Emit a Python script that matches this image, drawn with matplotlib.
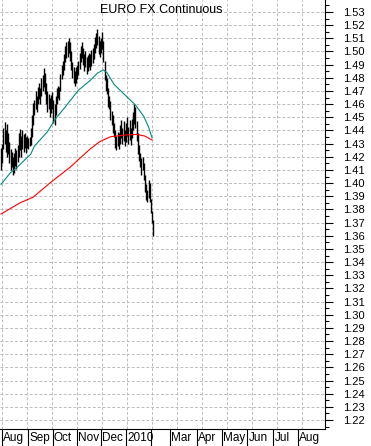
import matplotlib

matplotlib.use("Agg")
import matplotlib.pyplot as plt
from matplotlib.transforms import blended_transform_factory
from matplotlib.ticker import MultipleLocator, FormatStrFormatter
import numpy as np

plt.rcParams["font.family"] = ["Liberation Sans", "DejaVu Sans"]

# daily bars, trading-day index 0 = 31 Jul 2009
lows = [
    1.4100, 1.4150, 1.4260, 1.4300, 1.4240, 1.4200, 1.4220, 1.4150, 1.4100, 1.4120,
    1.4060, 1.4080, 1.4130, 1.4110, 1.4160, 1.4200, 1.4250, 1.4200, 1.4260, 1.4240,
    1.4270, 1.4230, 1.4270, 1.4260, 1.4280, 1.4290, 1.4350, 1.4440, 1.4520, 1.4560,
    1.4540, 1.4600, 1.4640, 1.4600, 1.4660, 1.4700, 1.4730, 1.4680, 1.4600, 1.4540,
    1.4560, 1.4500, 1.4530, 1.4560, 1.4460, 1.4440, 1.4520, 1.4600, 1.4650, 1.4630,
    1.4700, 1.4790, 1.4820, 1.4860, 1.4920, 1.4950, 1.4960, 1.4990, 1.4930, 1.4860,
    1.4800, 1.4760, 1.4740, 1.4760, 1.4790, 1.4820, 1.4870, 1.4920, 1.4950, 1.4900,
    1.4850, 1.4880, 1.4830, 1.4850, 1.4880, 1.4860, 1.4890, 1.4910, 1.4940, 1.4990,
    1.5030, 1.5050, 1.4980, 1.4960, 1.4990, 1.5020, 1.4920, 1.4780, 1.4700, 1.4680,
    1.4580, 1.4560, 1.4480, 1.4440, 1.4380, 1.4350, 1.4270, 1.4250, 1.4280, 1.4260,
    1.4300, 1.4340, 1.4300, 1.4320, 1.4280, 1.4310, 1.4360, 1.4300, 1.4330, 1.4290,
    1.4340, 1.4400, 1.4450, 1.4420, 1.4320, 1.4220, 1.4170, 1.4120, 1.4060, 1.4100,
    1.4020, 1.3930, 1.3870, 1.3860, 1.3890, 1.3860, 1.3770, 1.3700, 1.3600,
]
highs = [
    1.4270, 1.4300, 1.4420, 1.4465, 1.4400, 1.4450, 1.4380, 1.4310, 1.4260, 1.4240,
    1.4200, 1.4230, 1.4270, 1.4250, 1.4290, 1.4380, 1.4410, 1.4360, 1.4400, 1.4370,
    1.4380, 1.4350, 1.4360, 1.4340, 1.4350, 1.4420, 1.4520, 1.4610, 1.4630, 1.4700,
    1.4660, 1.4730, 1.4760, 1.4720, 1.4800, 1.4820, 1.4875, 1.4840, 1.4760, 1.4700,
    1.4680, 1.4650, 1.4670, 1.4690, 1.4630, 1.4600, 1.4660, 1.4720, 1.4740, 1.4730,
    1.4830, 1.4900, 1.4930, 1.4980, 1.5040, 1.5070, 1.5080, 1.5100, 1.5070, 1.5000,
    1.4920, 1.4880, 1.4850, 1.4880, 1.4900, 1.4930, 1.4990, 1.5040, 1.5070, 1.5030,
    1.4980, 1.5000, 1.4960, 1.4970, 1.4990, 1.4980, 1.5010, 1.5030, 1.5060, 1.5110,
    1.5140, 1.5170, 1.5120, 1.5080, 1.5100, 1.5150, 1.5080, 1.4930, 1.4820, 1.4800,
    1.4720, 1.4660, 1.4620, 1.4550, 1.4520, 1.4460, 1.4400, 1.4360, 1.4390, 1.4380,
    1.4440, 1.4480, 1.4420, 1.4470, 1.4400, 1.4460, 1.4500, 1.4430, 1.4480, 1.4420,
    1.4490, 1.4540, 1.4600, 1.4580, 1.4470, 1.4380, 1.4290, 1.4230, 1.4190, 1.4200,
    1.4150, 1.4060, 1.3990, 1.3950, 1.4020, 1.4000, 1.3880, 1.3790, 1.3720,
]

# moving averages read at sample days
ma_fast_day = [0, 8, 13, 21, 25, 28, 33, 39, 41, 46, 55, 65, 75, 81, 86, 89, 95, 106, 113, 120, 124, 127]
ma_fast_val = [1.3990, 1.4080, 1.4115, 1.4185, 1.4220, 1.4280, 1.4330, 1.4390, 1.4420, 1.4490,
               1.4590, 1.4705, 1.4780, 1.4835, 1.4860, 1.4840, 1.4750, 1.4654, 1.4593, 1.4507,
               1.4426, 1.4343]
ma_slow_day = [0, 16, 27, 41, 58, 75, 83, 92, 104, 114, 121, 127]
ma_slow_val = [1.3765, 1.3850, 1.3893, 1.4000, 1.4120, 1.4260, 1.4315, 1.4352, 1.4365, 1.4370,
               1.4357, 1.4327]

# month boundaries (trading-day index) and their labels
month_starts = [0.8, 22.7, 43.3, 63.9, 84.0, 105.0, 126.1, 142.0, 164.7, 185.7, 206.7, 228.6, 249.6]
month_labels = ["Aug", "Sep", "Oct", "Nov", "Dec", "2010", "", "Mar", "Apr", "May", "Jun", "Jul", "Aug"]

fig = plt.figure(figsize=(3.71, 4.46), dpi=100)
fig.patch.set_facecolor("white")
ax = fig.add_axes([0, 1 - 429 / 446, 325 / 371, 429 / 446])
ax.set_facecolor("white")

days = np.arange(len(lows))
x_min, x_max = -0.84, 272.3
ax.set_xlim(x_min, x_max)
ax.set_ylim(1.2132, 1.5391)

# dashed grid
grid_kw = dict(color="#bcbcbc", linewidth=0.7, linestyle=(0, (3, 2)), zorder=0)
for yv in np.arange(1.22, 1.535, 0.01):
    ax.axhline(yv, **grid_kw)
for xv in np.arange(0.84, x_max, 21.0):
    ax.axvline(xv, **grid_kw)

ax.vlines(days, lows, highs, color="black", linewidth=1.0, zorder=3)
ax.plot(ma_slow_day, ma_slow_val, color="#ff0000", linewidth=0.8, zorder=4)
ax.plot(ma_fast_day, ma_fast_val, color="#008c7a", linewidth=0.8, zorder=4)

ax.text(0.497, 0.977, "EURO FX Continuous", transform=ax.transAxes,
        ha="center", va="center", fontsize=9, color="black")

# right-hand price axis
ax.yaxis.tick_right()
ax.yaxis.set_major_locator(MultipleLocator(0.01))
ax.yaxis.set_minor_locator(MultipleLocator(0.005))
ax.yaxis.set_major_formatter(FormatStrFormatter("%.2f"))
ax.tick_params(axis="y", which="major", length=6, width=0.8, pad=7, labelsize=8, colors="black")
ax.tick_params(axis="y", which="minor", length=3, width=0.8, colors="black")

# month separators below the axis
ax.set_xticks(month_starts)
ax.set_xticklabels([""] * len(month_starts))
ax.tick_params(axis="x", which="major", direction="out", length=16, width=0.8, colors="black")
trans = blended_transform_factory(ax.transData, ax.transAxes)
for xs, lab in zip(month_starts, month_labels):
    ax.text(xs + 1.2, -0.021, lab, transform=trans, ha="left", va="center",
            fontsize=8.5, color="black", clip_on=False)

for side in ("left", "top"):
    ax.spines[side].set_visible(False)
for side in ("right", "bottom"):
    ax.spines[side].set_color("black")
    ax.spines[side].set_linewidth(0.8)

plt.savefig("out.png", dpi=100, facecolor="white")
